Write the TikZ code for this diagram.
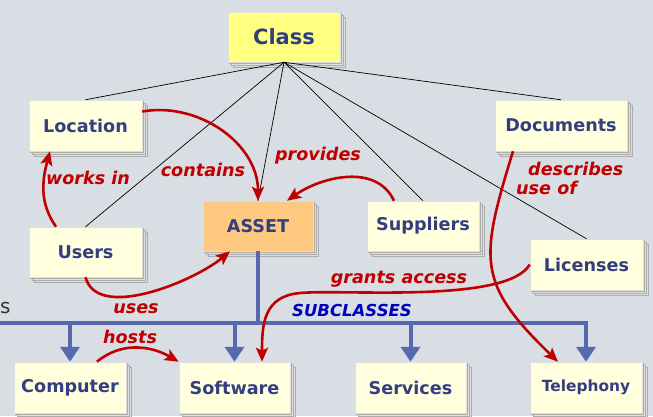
\documentclass[tikz,border=0pt]{standalone}
\usepackage{fontspec}
\setmainfont{DejaVu Sans}
\usetikzlibrary{arrows.meta,shadows}

\definecolor{bg}{RGB}{216,222,228}
\definecolor{boxfill}{RGB}{255,255,222}
\definecolor{classfill}{RGB}{255,255,128}
\definecolor{assetfill}{RGB}{255,200,128}
\definecolor{boxtext}{RGB}{50,62,128}
\definecolor{relred}{RGB}{192,0,0}
\definecolor{treeblue}{RGB}{88,104,172}
\definecolor{subblue}{RGB}{0,0,192}

\begin{document}
\begin{tikzpicture}[
		x=1pt,y=-1pt,
		box/.style={rectangle,draw=gray!25,line width=0.5pt,fill=boxfill,
				minimum width=112pt,minimum height=51pt,inner sep=0pt,
				text=boxtext,font=\bfseries\fontsize{17.6}{20}\selectfont,
				general shadow={shadow xshift=5.1pt,shadow yshift=-5.1pt,fill=gray!25,draw=gray!65,line width=0.6pt},
				general shadow={shadow xshift=3.4pt,shadow yshift=-3.4pt,fill=gray!25,draw=gray!65,line width=0.6pt},
				general shadow={shadow xshift=1.7pt,shadow yshift=-1.7pt,fill=gray!25,draw=gray!65,line width=0.6pt}},
		rel/.style={draw=relred,line width=2.6pt,-{Stealth[length=14pt,width=12pt,inset=3pt]}},
		rellabel/.style={text=relred,font=\bfseries\itshape\fontsize{17.6}{20}\selectfont,inner sep=0pt},
		tree/.style={draw=treeblue,line width=4pt,line join=miter},
		treetip/.style={-{Triangle[length=15pt,width=19pt]}}
	]
	\fill[bg] (0,0) rectangle (653,416);
	\useasboundingbox (0,0) rectangle (653,416);

	% boxes
	\node[box,fill=classfill,font=\bfseries\fontsize{21}{24}\selectfont,minimum height=50pt] (class) at (284,37) {Class};
	\node[box,minimum width=113pt] (location) at (85.5,125.5) {Location};
	\node[box,minimum width=132pt] (documents) at (561,125.5) {Documents};
	\node[box,fill=assetfill,minimum width=110pt,minimum height=50pt] (asset) at (258,226) {ASSET};
	\node[box,minimum height=50pt] (suppliers) at (423,226) {Suppliers};
	\node[box,minimum width=113pt,minimum height=50pt] (users) at (85.5,252) {Users};
	\node[box,minimum width=113pt] (licenses) at (586.5,264.5) {Licenses};
	\node[box] (computer) at (70,387.5) {Computer};
	\node[box,minimum width=111pt] (software) at (234.5,387.5) {Software};
	\node[box,minimum width=111pt] (services) at (410.5,387.5) {Services};
	\node[box,font=\bfseries\fontsize{15.4}{18}\selectfont] (telephony) at (586,387.5) {Telephony};

	\node[anchor=base west,inner sep=0pt,text=black!80,font=\fontsize{20}{24}\selectfont] (cut) at (0,313) {s};

	% class links
	\foreach \n in {location,users,asset,suppliers,licenses,documents}
		\draw[line width=0.7pt] (class.south) -- (\n.north);

	% subclasses
	\coordinate (bar) at (0,323);
	\draw[tree] (asset.south) -- (asset.south |- bar);
	\draw[tree,{Triangle[length=15pt,width=19pt]}-{Triangle[length=15pt,width=19pt]}]
		(computer.north) |- (bar) -| (telephony.north);
	\draw[tree,treetip] (software.north |- bar) -- (software.north);
	\draw[tree,treetip] (services.north |- bar) -- (services.north);
	\node[text=subblue,font=\bfseries\itshape\fontsize{16.5}{20}\selectfont,inner sep=0pt] (sublabel) at (352,310) {SUBCLASSES};

	% relations
	\coordinate (grantbend) at (300,293);
	\draw[rel] ([yshift=14pt]location.east) to[out=10,in=90] (asset.north);
	\draw[rel] ([xshift=-29.5pt]users.north) to[out=125,in=-105] ([xshift=-35.5pt]location.south);
	\draw[rel] ([xshift=-29pt]suppliers.north) to[out=115,in=35] ([xshift=29pt]asset.north);
	\draw[rel] (users.south) to[out=-75,in=-140,looseness=0.8] ([xshift=-28pt]asset.south);
	\draw[rel] (licenses.west) to[out=-120,in=5,looseness=0.5] (grantbend) to[out=185,in=90,looseness=1.2] ([xshift=27.5pt]software.north);
	\draw[rel] ([xshift=-48pt]documents.south) to[out=-107,in=136,looseness=1.35] ([xshift=-28pt]telephony.north);
	\draw[rel] ([xshift=27pt]computer.north) to[out=40,in=150] (software.north west);

	\node[rellabel] (lblcontains) at (203,170) {contains};
	\node[rellabel] (lblworks) at (88,178) {works in};
	\node[rellabel] (lblprovides) at (318,156) {provides};
	\node[rellabel,anchor=west] (lbldescribes) at (528,169) {describes};
	\node[rellabel,anchor=west] (lbluseof) at (516,188) {use of};
	\node[rellabel] (lbluses) at (136,309) {uses};
	\node[rellabel] (lblgrants) at (399,279) {grants access};
	\node[rellabel] (lblhosts) at (130,337) {hosts};
\end{tikzpicture}
\end{document}
